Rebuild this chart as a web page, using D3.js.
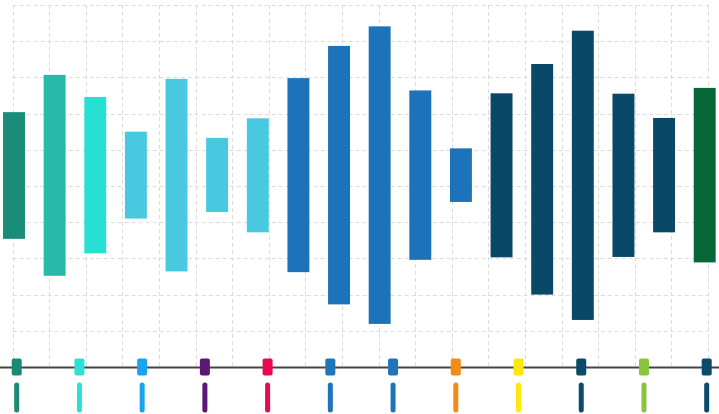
<!DOCTYPE html>
<html>
<head>
<meta charset="utf-8">
<script src="https://cdn.jsdelivr.net/npm/d3@7"></script>
<style>
  html, body { margin: 0; padding: 0; background: #fff; }
  svg { display: block; }
</style>
</head>
<body>
<script>
// range bars: low / high value per column
const barIds = ['b1','b2','b3','b4','b5','b6','b7','b8','b9','b10','b11','b12','b13','b14','b15','b16','b17','b18'];
const barLow  = [35.4, 25.2, 31.4, 41.0, 26.4, 42.8, 37.2, 26.2, 17.3, 11.9, 29.6, 45.6, 30.3, 20.0, 13.0, 30.4, 37.2, 28.9];
const barHigh = [70.4, 80.7, 74.6, 65.0, 79.6, 63.3, 68.7, 79.8, 88.7, 94.1, 76.4, 60.4, 75.6, 83.7, 92.9, 75.5, 68.8, 77.1];
const barColors = ['#1a8c77','#27b9aa','#27e0d3','#48c9e0','#48c9e0','#48c9e0','#48c9e0',
  '#1c73b9','#1c73b9','#1c73b9','#1c73b9','#1c73b9',
  '#094866','#094866','#094866','#094866','#094866','#046735'];

// markers along the bottom axis
const markerIds = ['m1','m2','m3','m4','m5','m6','m7','m8','m9','m10','m11','m12'];
const markerColors = ['#1a8a73','#2ee0d4','#18a4ef','#5c1774','#e80a4e','#1f74ba',
  '#1f74ba','#f48b14','#fde80b','#0b4a68','#8ac33e','#0b4a68'];

const yTicks = d3.range(0, 101, 10);
const xGridTicks = d3.range(0, 20);

const width = 719, height = 414;

const svg = d3.select('body').append('svg')
  .attr('width', width)
  .attr('height', height);

const y = d3.scaleLinear().domain([0, 100]).range([367, 5]);
const xGrid = d3.scaleLinear().domain([0, 19]).range([12.7, 708]);
const x = d3.scalePoint().domain(barIds).range([14, 704.7]);
const xm = d3.scalePoint().domain(markerIds).range([16.7, 706.7]);

//grid
const grid = svg.append('g').attr('class', 'grid')
  .attr('stroke', '#dcdcdc')
  .attr('stroke-width', 1)
  .attr('stroke-dasharray', '4,3');

grid.selectAll('.hline')
  .data(yTicks)
  .enter().append('line')
  .attr('x1', xGrid(0)).attr('x2', xGrid(19))
  .attr('y1', d => Math.round(y(d)) + 0.5)
  .attr('y2', d => Math.round(y(d)) + 0.5);

grid.selectAll('.vline')
  .data(xGridTicks)
  .enter().append('line')
  .attr('x1', d => Math.round(xGrid(d)) + 0.5)
  .attr('x2', d => Math.round(xGrid(d)) + 0.5)
  .attr('y1', y(100)).attr('y2', y(0));

//bars
const barW = x.step() * 0.54;
svg.selectAll('.bar')
  .data(barIds)
  .enter().append('rect')
  .attr('class', 'bar')
  .attr('x', d => x(d) - barW / 2)
  .attr('width', barW)
  .attr('y', (d, i) => y(barHigh[i]))
  .attr('height', (d, i) => y(barLow[i]) - y(barHigh[i]))
  .attr('fill', (d, i) => barColors[i]);

//axis line
svg.append('line')
  .attr('x1', 0).attr('x2', width)
  .attr('y1', 367.5).attr('y2', 367.5)
  .attr('stroke', '#444')
  .attr('stroke-width', 2);

//markers on axis
svg.selectAll('.marker')
  .data(markerIds)
  .enter().append('rect')
  .attr('class', 'marker')
  .attr('x', d => xm(d) - 5)
  .attr('y', 358.5)
  .attr('width', 10)
  .attr('height', 17)
  .attr('rx', 2)
  .attr('fill', (d, i) => markerColors[i]);

//short ticks below
svg.selectAll('.stick')
  .data(markerIds)
  .enter().append('line')
  .attr('class', 'stick')
  .attr('x1', d => xm(d)).attr('x2', d => xm(d))
  .attr('y1', 385).attr('y2', 410)
  .attr('stroke', (d, i) => markerColors[i])
  .attr('stroke-width', 5)
  .attr('stroke-linecap', 'round');
</script>
</body>
</html>
